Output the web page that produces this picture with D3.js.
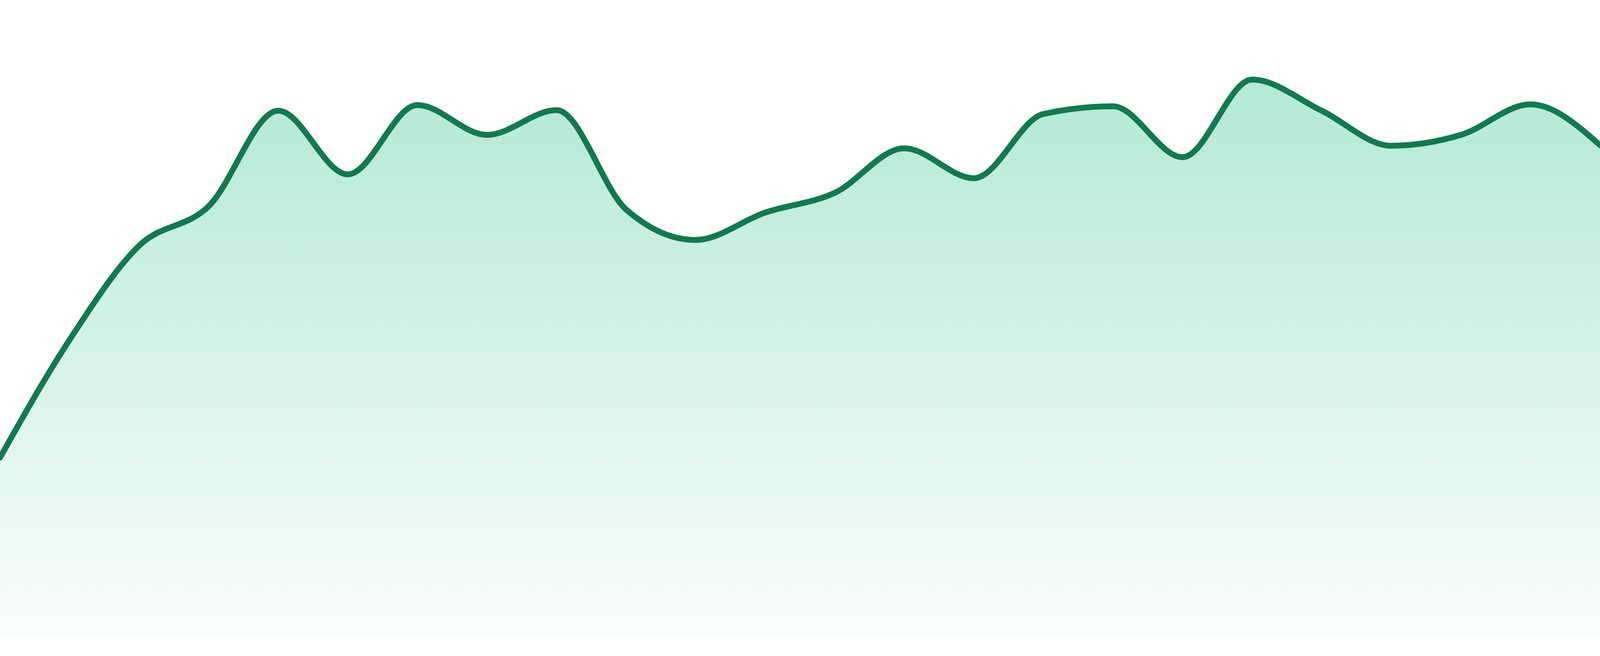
<!DOCTYPE html>
<html>
<head>
<meta charset="utf-8">
<script src="https://cdn.jsdelivr.net/npm/d3@7"></script>
<style>
  html, body { margin: 0; padding: 0; background: #ffffff; overflow: hidden; }
  svg { display: block; }
</style>
</head>
<body>
<div id="chart"></div>
<script>
// Data (index-based series)
const categories = d3.range(24);
const values = [28.1, 46.6, 61.4, 67.6, 82.6, 72.6, 83.5, 78.8, 82.7, 67.1, 62.3, 66.6,
                69.7, 76.7, 72.0, 82.1, 83.3, 75.3, 87.5, 82.6, 77.1, 78.8, 83.6, 77.2];

const W = window.innerWidth || 4800, H = window.innerHeight || 1680;
const bottom = H * 1630 / 1680;

const svg = d3.select("#chart").append("svg")
  .attr("width", W).attr("height", H);

const x = d3.scaleLinear().domain([0, categories.length - 1]).range([0, W]);
const y = d3.scaleLinear().domain([0, 100]).range([bottom, 0]);

const data = categories.map((c, i) => ({ c, v: values[i] }));

const defs = svg.append("defs");
const grad = defs.append("linearGradient")
  .attr("id", "areaGrad")
  .attr("gradientUnits", "userSpaceOnUse")
  .attr("x1", 0).attr("x2", 0)
  .attr("y1", y(d3.max(values))).attr("y2", bottom);
grad.append("stop").attr("offset", "0%").attr("stop-color", "#10b981").attr("stop-opacity", 0.32);
grad.append("stop").attr("offset", "100%").attr("stop-color", "#10b981").attr("stop-opacity", 0.02);

const area = d3.area()
  .x(d => x(d.c))
  .y0(bottom)
  .y1(d => y(d.v))
  .curve(d3.curveMonotoneX);

const line = d3.line()
  .x(d => x(d.c))
  .y(d => y(d.v))
  .curve(d3.curveMonotoneX);

svg.append("path")
  .datum(data)
  .attr("d", area)
  .attr("fill", "url(#areaGrad)");

svg.append("path")
  .datum(data)
  .attr("d", line)
  .attr("fill", "none")
  .attr("stroke", "#117a51")
  .attr("stroke-width", 15)
  .attr("stroke-linejoin", "round")
  .attr("stroke-linecap", "round");
</script>
</body>
</html>
